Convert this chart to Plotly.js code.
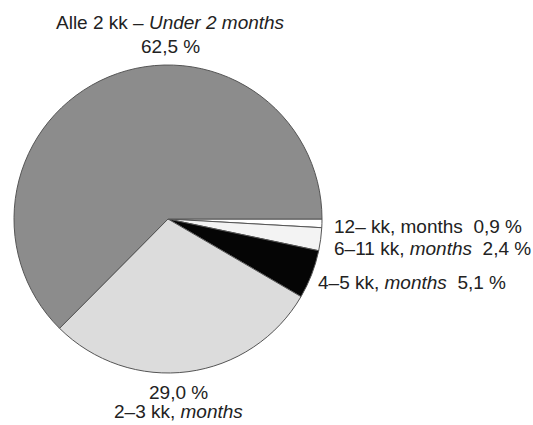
<!DOCTYPE html>
<html>
<head>
<meta charset="utf-8">
<script src="https://cdn.plot.ly/plotly-3.0.1.min.js"></script>
<style>html,body{margin:0;padding:0;background:#fff}#chart{width:533px;height:425px}</style>
</head>
<body>
<div id="chart"></div>
<script>
// Data
const categories = ["12– kk, months", "6–11 kk, <i>months</i>", "4–5 kk, <i>months</i>", "2–3 kk, <i>months</i>", "Alle 2 kk – <i>Under 2 months</i>"];
const values = [0.9, 2.4, 5.1, 29.0, 62.5];

// Styles
const sliceColors = ["#ffffff", "#f3f3f3", "#050505", "#dcdcdc", "#8c8c8c"];
const fmt = v => v.toFixed(1).replace('.', ',') + ' %';

// label placement (pixels in 533x425 frame)
const W = 533, H = 425;
const labelFont = {family: "Liberation Sans, Arial, sans-serif", size: 19, color: "#222"};
function px(x){return x / W;}
function py(y){return 1 - y / H;}

const annotations = [
  {x: px(170), y: py(23), text: categories[4], xanchor: "center"},
  {x: px(170), y: py(46), text: fmt(values[4]), xanchor: "center"},
  {x: px(332), y: py(227), text: categories[0] + "  " + fmt(values[0]), xanchor: "left"},
  {x: px(332), y: py(248), text: categories[1] + "  " + fmt(values[1]), xanchor: "left"},
  {x: px(316), y: py(282), text: categories[2] + "  " + fmt(values[2]), xanchor: "left"},
  {x: px(178), y: py(392), text: fmt(values[3]), xanchor: "center"},
  {x: px(178), y: py(411), text: categories[3], xanchor: "center"}
].map(a => Object.assign({xref: "paper", yref: "paper", yanchor: "middle", showarrow: false, font: labelFont}, a));

const trace = {
  type: "pie",
  labels: categories,
  values: values,
  sort: false,
  direction: "clockwise",
  rotation: 90,
  textinfo: "none",
  hoverinfo: "none",
  marker: {colors: sliceColors, line: {color: "#555", width: 1}},
  domain: {x: [14 / W, 322 / W], y: [1 - 373 / H, 1 - 65 / H]},
  showlegend: false
};

Plotly.newPlot("chart", [trace], {
  width: W, height: H,
  margin: {l: 0, r: 0, t: 0, b: 0},
  paper_bgcolor: "#fff",
  plot_bgcolor: "#fff",
  showlegend: false,
  annotations: annotations
}, {staticPlot: true, displayModeBar: false});
</script>
</body>
</html>
